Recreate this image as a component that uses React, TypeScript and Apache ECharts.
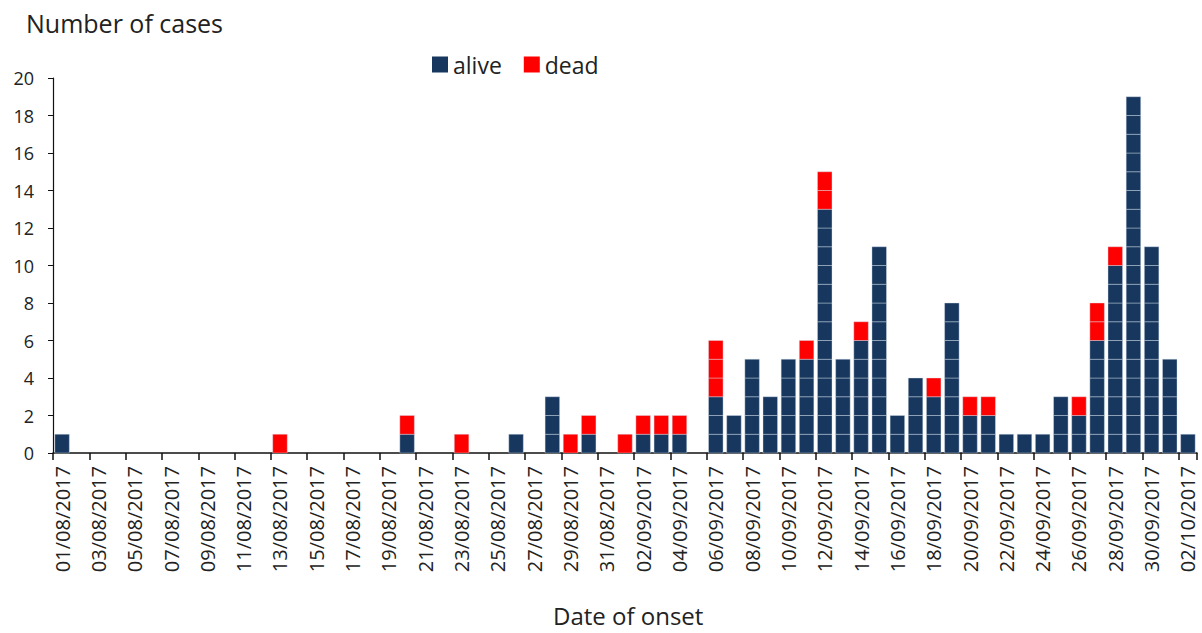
import React, { useEffect, useRef } from "react";
import * as echarts from "echarts";

const categories = [
  "01/08/2017","02/08/2017","03/08/2017","04/08/2017","05/08/2017","06/08/2017","07/08/2017","08/08/2017",
  "09/08/2017","10/08/2017","11/08/2017","12/08/2017","13/08/2017","14/08/2017","15/08/2017","16/08/2017",
  "17/08/2017","18/08/2017","19/08/2017","20/08/2017","21/08/2017","22/08/2017","23/08/2017","24/08/2017",
  "25/08/2017","26/08/2017","27/08/2017","28/08/2017","29/08/2017","30/08/2017","31/08/2017",
  "01/09/2017","02/09/2017","03/09/2017","04/09/2017","05/09/2017","06/09/2017","07/09/2017","08/09/2017",
  "09/09/2017","10/09/2017","11/09/2017","12/09/2017","13/09/2017","14/09/2017","15/09/2017","16/09/2017",
  "17/09/2017","18/09/2017","19/09/2017","20/09/2017","21/09/2017","22/09/2017","23/09/2017","24/09/2017",
  "25/09/2017","26/09/2017","27/09/2017","28/09/2017","29/09/2017","30/09/2017",
  "01/10/2017","02/10/2017",
];

// August (31 days)
const aliveAug = [1,0,0,0,0,0,0,0,0,0,0,0,0,0,0,0,0,0,0,1,0,0,0,0,0,1,0,3,0,1,0];
const deadAug  = [0,0,0,0,0,0,0,0,0,0,0,0,1,0,0,0,0,0,0,1,0,0,1,0,0,0,0,0,1,1,0];
// September (30 days)
const aliveSep = [0,1,1,1,0,3,2,5,3,5,5,13,5,6,11,2,4,3,8,2,2,1,1,1,3,2,6,10,19,11];
const deadSep  = [1,1,1,1,0,3,0,0,0,0,1,2,0,1,0,0,0,1,0,1,1,0,0,0,0,1,2,1,0,0];
// October (2 days)
const aliveOct = [5,1];
const deadOct  = [0,0];

const alive = [...aliveAug, ...aliveSep, ...aliveOct];
const dead = [...deadAug, ...deadSep, ...deadOct];

const yTicks = { min: 0, max: 20, interval: 2 };

const FONT = "'Open Sans', 'Noto Sans', sans-serif";
const NAVY = "#17375E";
const RED = "#FF0000";

function blockRenderer(params: any, api: any) {
  const i = api.value(0);
  const base = api.value(1);
  const n = api.value(2);
  const w = api.size([1, 0])[0] * 0.8;
  const color = api.visual("color");
  const children: any[] = [];
  for (let k = 0; k < n; k++) {
    const p0 = api.coord([i, base + k]);
    const p1 = api.coord([i, base + k + 1]);
    children.push({
      type: "rect",
      shape: { x: p0[0] - w / 2, y: p1[1], width: w, height: p0[1] - p1[1] },
      style: { fill: color, stroke: "rgba(215,224,238,0.4)", lineWidth: 1 },
    });
  }
  return { type: "group", children };
}

export default function App() {
  const ref = useRef<HTMLDivElement>(null);
  useEffect(() => {
    document.body.style.margin = "0";
    const chart = echarts.init(ref.current!, null, { renderer: "svg" });
    chart.setOption({
      animation: false,
      backgroundColor: "#ffffff",
      textStyle: { fontFamily: FONT },
      grid: { left: 53, right: 5, top: 78, bottom: 180, containLabel: false },
      legend: {
        data: ["alive", "dead"],
        left: 432,
        top: 53,
        padding: 0,
        icon: "rect",
        itemWidth: 16,
        itemHeight: 16,
        itemGap: 22,
        textStyle: { fontSize: 23, color: "#222", fontFamily: FONT },
      },
      graphic: [
        {
          type: "text",
          left: 26,
          top: 10,
          style: { text: "Number of cases", fontSize: 25, fill: "#222", fontFamily: FONT },
        },
        {
          type: "text",
          left: 553,
          top: 603,
          style: { text: "Date of onset", fontSize: 24, fill: "#222", fontFamily: FONT },
        },
      ],
      xAxis: {
        type: "category",
        data: categories,
        boundaryGap: true,
        axisLine: { lineStyle: { color: "#111", width: 1.5 } },
        axisTick: { show: true, interval: 1, length: 7, lineStyle: { color: "#111", width: 1.5 } },
        axisLabel: {
          interval: 1,
          rotate: 90,
          margin: 13,
          fontSize: 20,
          color: "#222",
          fontFamily: FONT,
        },
        splitLine: { show: false },
      },
      yAxis: {
        type: "value",
        min: yTicks.min,
        max: yTicks.max,
        interval: yTicks.interval,
        axisLine: { show: true, lineStyle: { color: "#111", width: 1.2 } },
        axisTick: { show: true, length: 5, lineStyle: { color: "#111" } },
        axisLabel: { fontSize: 18, color: "#222", margin: 19, fontFamily: FONT },
        splitLine: { show: false },
      },
      series: [
        {
          name: "alive",
          type: "custom",
          itemStyle: { color: NAVY },
          renderItem: blockRenderer,
          encode: { x: 0, y: 2 },
          data: alive.map((v, i) => [i, 0, v]),
        },
        {
          name: "dead",
          type: "custom",
          itemStyle: { color: RED },
          renderItem: blockRenderer,
          encode: { x: 0, y: 2 },
          data: dead.map((v, i) => [i, alive[i], v]),
        },
      ],
    });
    return () => chart.dispose();
  }, []);
  return (
    <div
      ref={ref}
      style={{ position: "absolute", left: 0, top: 0, width: 1202, height: 633 }}
    />
  );
}
